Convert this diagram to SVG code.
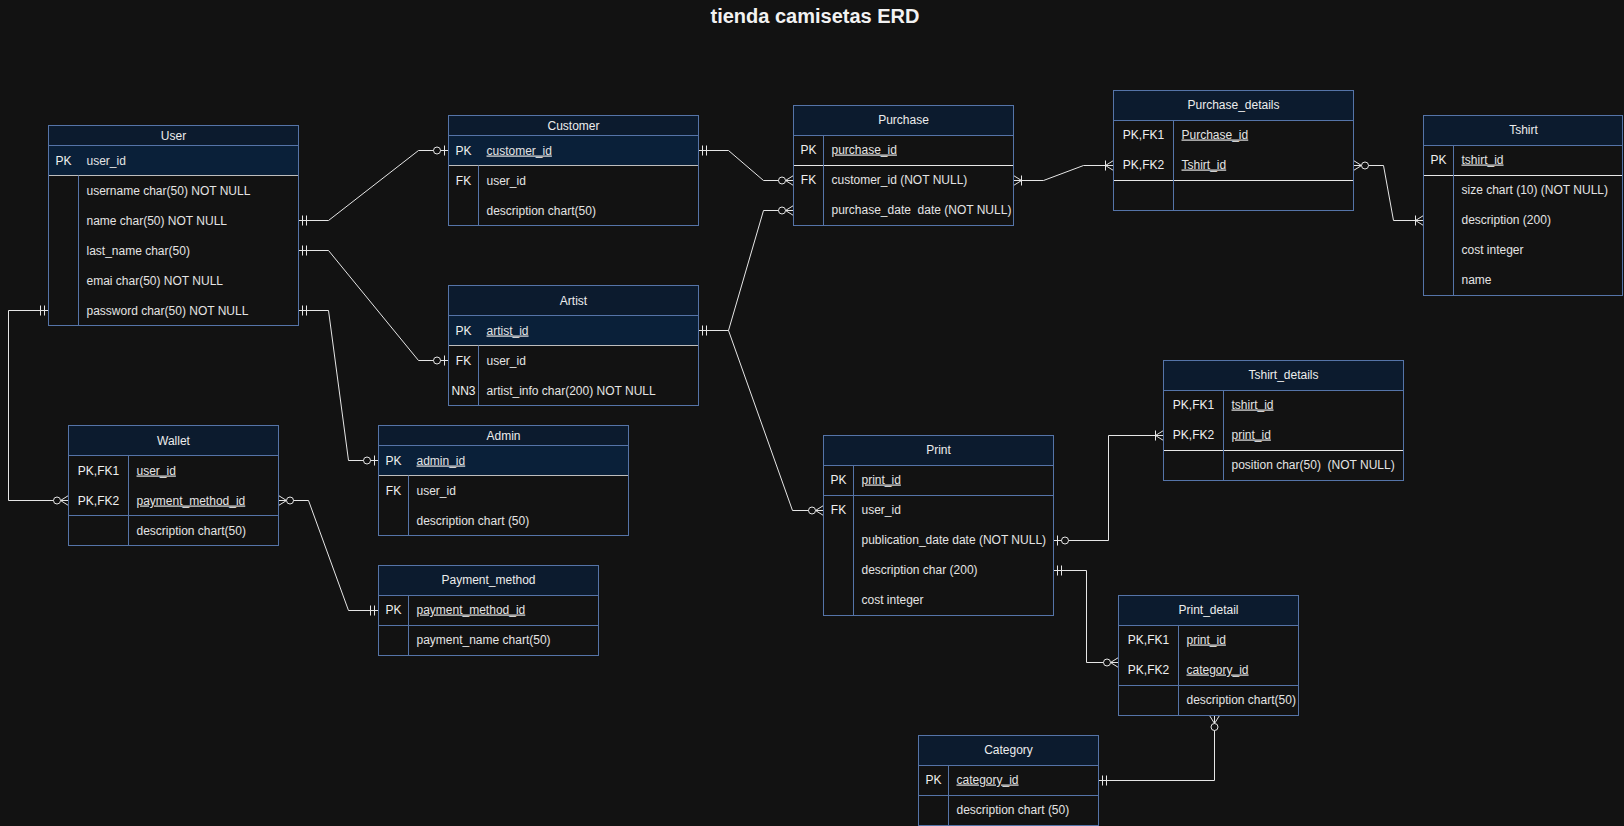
<svg xmlns="http://www.w3.org/2000/svg" width="1624" height="826" viewBox="0 0 1624 826">
<style>
text{font-family:"Liberation Sans",Arial,Helvetica,sans-serif;font-size:12px;fill:#e4e4e4}
.title{font-size:20px;font-weight:bold;fill:#f2f2f2;text-anchor:middle}
.h{text-anchor:middle;fill:#ededed}
.k{text-anchor:middle;fill:#f0f0f0}
.u{text-decoration:underline}
.box{fill:none;stroke:#5574a8;stroke-width:1}
.hdr{fill:#0c1b2e;stroke:#5574a8;stroke-width:1}
.pkf{fill:#0a2039;stroke:none}
.dv{stroke:#5574a8;stroke-width:1;fill:none}
.sw{stroke:#e8e8e8;stroke-width:1}
.sg{stroke:#bdbdbd;stroke-width:1}
.sb{stroke:#5574a8;stroke-width:1}
.c{fill:none;stroke:#e6e6e6;stroke-width:1}
.m{fill:none;stroke:#e6e6e6;stroke-width:1}
.mc{fill:#121212;stroke:#e6e6e6;stroke-width:1}
</style>
<defs>
<marker id="one" markerUnits="userSpaceOnUse" orient="auto-start-reverse" refX="0" refY="0" markerWidth="20" markerHeight="20" overflow="visible">
<path class="m" d="M-4,-5V5M-8,-5V5"/>
</marker>
<marker id="zeroOne" markerUnits="userSpaceOnUse" orient="auto-start-reverse" refX="0" refY="0" markerWidth="20" markerHeight="20" overflow="visible">
<path class="m" d="M-4,-5V5"/>
<circle class="mc" cx="-11.5" cy="0" r="3.5"/>
</marker>
<marker id="zeroMany" markerUnits="userSpaceOnUse" orient="auto-start-reverse" refX="0" refY="0" markerWidth="20" markerHeight="20" overflow="visible">
<path class="m" d="M0,-5L-8,0L0,5"/>
<circle class="mc" cx="-11.5" cy="0" r="3.5"/>
</marker>
<marker id="oneMany" markerUnits="userSpaceOnUse" orient="auto-start-reverse" refX="0" refY="0" markerWidth="20" markerHeight="20" overflow="visible">
<path class="m" d="M0,-5L-8,0L0,5M-8,-5V5"/>
</marker>
</defs>
<rect x="0" y="0" width="1624" height="826" fill="#121212"/>
<text class="title" x="815" y="23">tienda camisetas ERD</text>
<g transform="translate(0.5,0.5)">

<g id="connectors">
<path class="c" d="M298,220H328L418,150H448" marker-start="url(#one)" marker-end="url(#zeroOne)"/>
<path class="c" d="M298,250H328L418,360H448" marker-start="url(#one)" marker-end="url(#zeroOne)"/>
<path class="c" d="M298,310H328L348,460H378" marker-start="url(#one)" marker-end="url(#zeroOne)"/>
<path class="c" d="M48,310H8V500H68" marker-start="url(#one)" marker-end="url(#zeroMany)"/>
<path class="c" d="M278,500H308L348,610H378" marker-start="url(#zeroMany)" marker-end="url(#one)"/>
<path class="c" d="M698,150H728L763,180H793" marker-start="url(#one)" marker-end="url(#zeroMany)"/>
<path class="c" d="M698,330H728L763,210H793" marker-start="url(#one)" marker-end="url(#zeroMany)"/>
<path class="c" d="M728,330L792,510H823" marker-end="url(#zeroMany)"/>
<path class="c" d="M1013,180H1043L1083,165H1113" marker-start="url(#oneMany)" marker-end="url(#oneMany)"/>
<path class="c" d="M1353,165H1383L1393,220H1423" marker-start="url(#zeroMany)" marker-end="url(#oneMany)"/>
<path class="c" d="M1053,540H1108V435H1163" marker-start="url(#zeroOne)" marker-end="url(#oneMany)"/>
<path class="c" d="M1053,570H1086V662H1118" marker-start="url(#one)" marker-end="url(#zeroMany)"/>
<path class="c" d="M1098,780H1214V715" marker-start="url(#one)" marker-end="url(#zeroMany)"/>
</g>

<g id="user">
<rect class="pkf" x="48" y="145" width="250" height="30"/>
<rect class="hdr" x="48" y="125" width="250" height="20"/>
<line class="sg" x1="48" y1="175" x2="298" y2="175"/>
<line class="dv" x1="78" y1="175" x2="78" y2="325"/>
<rect class="box" x="48" y="125" width="250" height="200"/>
<text class="h" x="173" y="139">User</text>
<text class="k" x="63" y="164">PK</text>
<text x="86" y="164">user_id</text>
<text x="86" y="194">username char(50) NOT NULL</text>
<text x="86" y="224">name char(50) NOT NULL</text>
<text x="86" y="254">last_name char(50)</text>
<text x="86" y="284">emai char(50) NOT NULL</text>
<text x="86" y="314">password char(50) NOT NULL</text>
</g>

<g id="customer">
<rect class="pkf" x="448" y="135" width="250" height="30"/>
<rect class="hdr" x="448" y="115" width="250" height="20"/>
<line class="sg" x1="448" y1="165" x2="698" y2="165"/>
<line class="dv" x1="478" y1="165" x2="478" y2="225"/>
<rect class="box" x="448" y="115" width="250" height="110"/>
<text class="h" x="573" y="129">Customer</text>
<text class="k" x="463" y="154">PK</text>
<text class="u" x="486" y="154">customer_id</text>
<text class="k" x="463" y="184">FK</text>
<text x="486" y="184">user_id</text>
<text x="486" y="214">description chart(50)</text>
</g>

<g id="artist">
<rect class="pkf" x="448" y="315" width="250" height="30"/>
<rect class="hdr" x="448" y="285" width="250" height="30"/>
<line class="sg" x1="448" y1="345" x2="698" y2="345"/>
<line class="dv" x1="478" y1="345" x2="478" y2="405"/>
<rect class="box" x="448" y="285" width="250" height="120"/>
<text class="h" x="573" y="304">Artist</text>
<text class="k" x="463" y="334">PK</text>
<text class="u" x="486" y="334">artist_id</text>
<text class="k" x="463" y="364">FK</text>
<text x="486" y="364">user_id</text>
<text class="k" x="463" y="394">NN3</text>
<text x="486" y="394">artist_info char(200) NOT NULL</text>
</g>

<g id="admin">
<rect class="pkf" x="378" y="445" width="250" height="30"/>
<rect class="hdr" x="378" y="425" width="250" height="20"/>
<line class="sg" x1="378" y1="475" x2="628" y2="475"/>
<line class="dv" x1="408" y1="475" x2="408" y2="535"/>
<rect class="box" x="378" y="425" width="250" height="110"/>
<text class="h" x="503" y="439">Admin</text>
<text class="k" x="393" y="464">PK</text>
<text class="u" x="416" y="464">admin_id</text>
<text class="k" x="393" y="494">FK</text>
<text x="416" y="494">user_id</text>
<text x="416" y="524">description chart (50)</text>
</g>

<g id="wallet">
<rect class="hdr" x="68" y="425" width="210" height="30"/>
<line class="sb" x1="68" y1="515" x2="278" y2="515"/>
<line class="dv" x1="128" y1="455" x2="128" y2="545"/>
<rect class="box" x="68" y="425" width="210" height="120"/>
<text class="h" x="173" y="444">Wallet</text>
<text class="k" x="98" y="474">PK,FK1</text>
<text class="u" x="136" y="474">user_id</text>
<text class="k" x="98" y="504">PK,FK2</text>
<text class="u" x="136" y="504">payment_method_id</text>
<text x="136" y="534">description chart(50)</text>
</g>

<g id="payment_method">
<rect class="hdr" x="378" y="565" width="220" height="30"/>
<line class="sb" x1="378" y1="625" x2="598" y2="625"/>
<line class="dv" x1="408" y1="595" x2="408" y2="655"/>
<rect class="box" x="378" y="565" width="220" height="90"/>
<text class="h" x="488" y="583">Payment_method</text>
<text class="k" x="393" y="613">PK</text>
<text class="u" x="416" y="613">payment_method_id</text>
<text x="416" y="643">payment_name chart(50)</text>
</g>

<g id="purchase">
<rect class="hdr" x="793" y="105" width="220" height="30"/>
<line class="sw" x1="793" y1="165" x2="1013" y2="165"/>
<line class="dv" x1="823" y1="135" x2="823" y2="225"/>
<rect class="box" x="793" y="105" width="220" height="120"/>
<text class="h" x="903" y="123">Purchase</text>
<text class="k" x="808" y="153">PK</text>
<text class="u" x="831" y="153">purchase_id</text>
<text class="k" x="808" y="183">FK</text>
<text x="831" y="183">customer_id (NOT NULL)</text>
<text x="831" y="213" xml:space="preserve">purchase_date  date (NOT NULL)</text>
</g>

<g id="purchase_details">
<rect class="hdr" x="1113" y="90" width="240" height="30"/>
<line class="sw" x1="1113" y1="180" x2="1353" y2="180"/>
<line class="dv" x1="1173" y1="120" x2="1173" y2="210"/>
<rect class="box" x="1113" y="90" width="240" height="120"/>
<text class="h" x="1233" y="108">Purchase_details</text>
<text class="k" x="1143" y="138">PK,FK1</text>
<text class="u" x="1181" y="138">Purchase_id</text>
<text class="k" x="1143" y="168">PK,FK2</text>
<text class="u" x="1181" y="168">Tshirt_id</text>
</g>

<g id="tshirt">
<rect class="hdr" x="1423" y="115" width="199" height="30"/>
<line class="sw" x1="1423" y1="175" x2="1622" y2="175"/>
<line class="dv" x1="1453" y1="145" x2="1453" y2="295"/>
<rect class="box" x="1423" y="115" width="199" height="180"/>
<text class="h" x="1523" y="133">Tshirt</text>
<text class="k" x="1438" y="163">PK</text>
<text class="u" x="1461" y="163">tshirt_id</text>
<text x="1461" y="193">size chart (10) (NOT NULL)</text>
<text x="1461" y="223">description (200)</text>
<text x="1461" y="253">cost integer</text>
<text x="1461" y="283">name</text>
</g>

<g id="tshirt_details">
<rect class="hdr" x="1163" y="360" width="240" height="30"/>
<line class="sw" x1="1163" y1="450" x2="1403" y2="450"/>
<line class="dv" x1="1223" y1="390" x2="1223" y2="480"/>
<rect class="box" x="1163" y="360" width="240" height="120"/>
<text class="h" x="1283" y="378">Tshirt_details</text>
<text class="k" x="1193" y="408">PK,FK1</text>
<text class="u" x="1231" y="408">tshirt_id</text>
<text class="k" x="1193" y="438">PK,FK2</text>
<text class="u" x="1231" y="438">print_id</text>
<text x="1231" y="468" xml:space="preserve">position char(50)  (NOT NULL)</text>
</g>

<g id="print">
<rect class="hdr" x="823" y="435" width="230" height="30"/>
<line class="sb" x1="823" y1="495" x2="1053" y2="495"/>
<line class="dv" x1="853" y1="465" x2="853" y2="615"/>
<rect class="box" x="823" y="435" width="230" height="180"/>
<text class="h" x="938" y="453">Print</text>
<text class="k" x="838" y="483">PK</text>
<text class="u" x="861" y="483">print_id</text>
<text class="k" x="838" y="513">FK</text>
<text x="861" y="513">user_id</text>
<text x="861" y="543">publication_date date (NOT NULL)</text>
<text x="861" y="573">description char (200)</text>
<text x="861" y="603">cost integer</text>
</g>

<g id="print_detail">
<rect class="hdr" x="1118" y="595" width="180" height="30"/>
<line class="sb" x1="1118" y1="685" x2="1298" y2="685"/>
<line class="dv" x1="1178" y1="625" x2="1178" y2="715"/>
<rect class="box" x="1118" y="595" width="180" height="120"/>
<text class="h" x="1208" y="613">Print_detail</text>
<text class="k" x="1148" y="643">PK,FK1</text>
<text class="u" x="1186" y="643">print_id</text>
<text class="k" x="1148" y="673">PK,FK2</text>
<text class="u" x="1186" y="673">category_id</text>
<text x="1186" y="703">description chart(50)</text>
</g>

<g id="category">
<rect class="hdr" x="918" y="735" width="180" height="30"/>
<line class="sb" x1="918" y1="795" x2="1098" y2="795"/>
<line class="dv" x1="948" y1="765" x2="948" y2="825"/>
<rect class="box" x="918" y="735" width="180" height="90"/>
<text class="h" x="1008" y="753">Category</text>
<text class="k" x="933" y="783">PK</text>
<text class="u" x="956" y="783">category_id</text>
<text x="956" y="813">description chart (50)</text>
</g>

</g>
</svg>
